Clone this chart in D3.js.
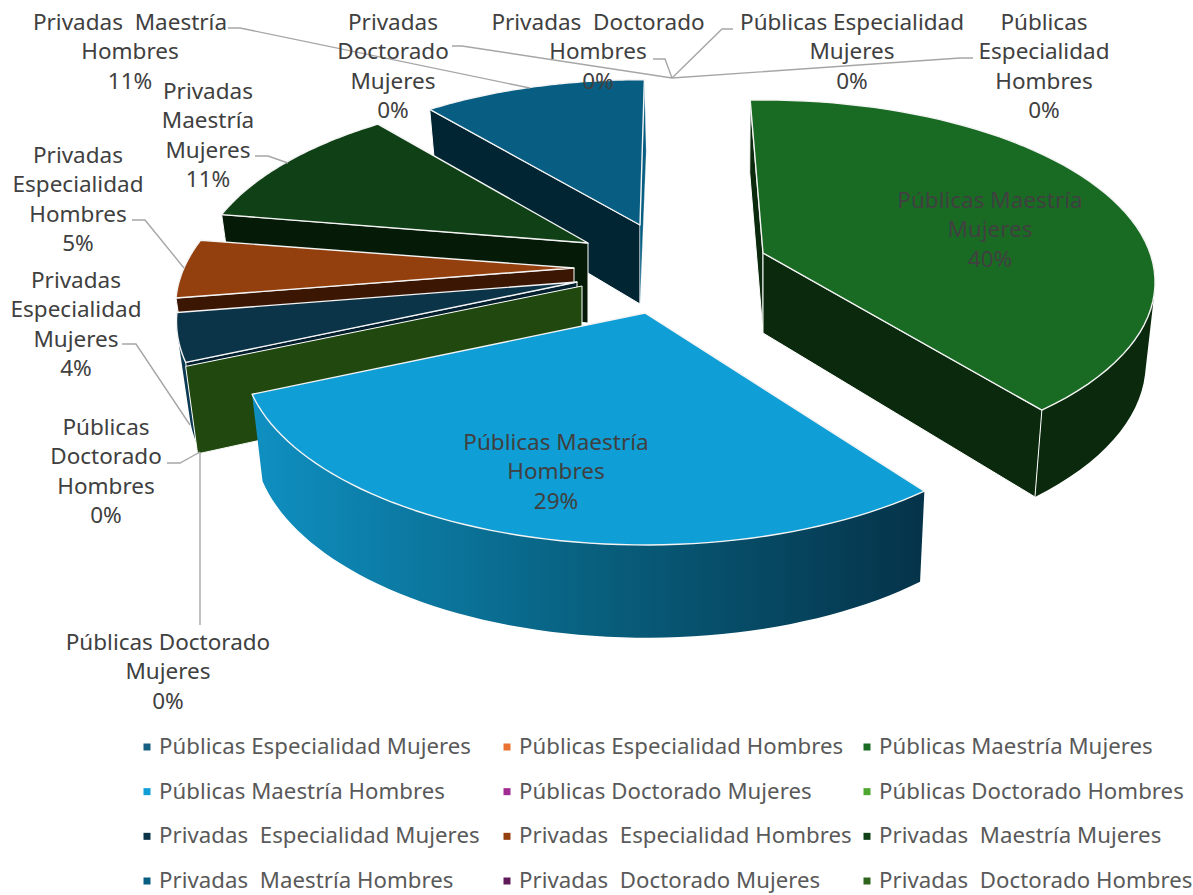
<!DOCTYPE html>
<html>
<head>
<meta charset="utf-8">
<script src="https://cdn.jsdelivr.net/npm/d3@7"></script>
<style>
  html, body { margin: 0; background: #fff; }
  svg { display: block; }
  text { font-family: "Noto Sans", sans-serif; white-space: pre; }
</style>
</head>
<body>
<div id="chart"></div>
<script>
const categories = [
  "Públicas Especialidad Mujeres", "Públicas Especialidad Hombres", "Públicas Maestría Mujeres",
  "Públicas Maestría Hombres", "Públicas Doctorado Mujeres", "Públicas Doctorado Hombres",
  "Privadas  Especialidad Mujeres", "Privadas  Especialidad Hombres", "Privadas  Maestría Mujeres",
  "Privadas  Maestría Hombres", "Privadas  Doctorado Mujeres", "Privadas  Doctorado Hombres"
];
const values = [0, 0, 39.8, 28.5, 0, 0, 4, 5, 11.45, 11.4, 0, 0];
const colors = ["#156082", "#e97132", "#196b24", "#0f9ed5", "#a02b93", "#4ea72e",
                "#0b3449", "#93400e", "#0f4016", "#075e82", "#601a58", "#2f641c"];
const wallColors = [null, null, "#0b2a0d", null, null, "#21480f",
                    "#04202f", "#3b1603", "#061a08", "#022533", null, null];
const labelLines = [
  ["Públicas Especialidad", "Mujeres"], ["Públicas", "Especialidad", "Hombres"], ["Públicas Maestría", "Mujeres"],
  ["Públicas Maestría", "Hombres"], ["Públicas Doctorado", "Mujeres"], ["Públicas", "Doctorado", "Hombres"],
  ["Privadas", "Especialidad", "Mujeres"], ["Privadas", "Especialidad", "Hombres"], ["Privadas", "Maestría", "Mujeres"],
  ["Privadas  Maestría", "Hombres"], ["Privadas", "Doctorado", "Mujeres"], ["Privadas  Doctorado", "Hombres"]
];

const width = 1193, height = 895;
const rad = Math.PI / 180;

// where each label sits: centre x, first baseline
const labelPos = [
  [852, 29.5], [1044, 29.5], [990, 207.5], [556, 449.5], [168, 649.5], [106, 434.5],
  [76, 287.5], [78, 162.5], [208, 98.5], [130, 29.5], [393, 29.5], [598, 29.5]
];
// leader lines
const leaders = [
  [[733, 29], [722, 29], [672, 78]],
  [[973, 58], [960, 58], [672, 78]],
  null,
  null,
  [[200, 625], [200, 452]],
  [[167, 463], [180, 463], [200, 452]],
  [[122, 344], [136, 344], [190, 425]],
  [[132, 220], [145, 220], [184, 268]],
  [[255, 156], [268, 156], [288, 163]],
  [[228, 28], [240, 28], [530, 88]],
  [[452, 46], [462, 46], [672, 78]],
  [[653, 59], [665, 59], [672, 78]]
];

// exploded slices: apex on screen, angle nudge, perspective, ellipse size, thickness
const geom = {
  2: {cx: 763, cy: 253, twist: 0,    k: 0.16,  a: 387, b: 177.5, dep: 80},
  3: {cx: 645, cy: 313, twist: 2.84, k: 0.205, a: 394, b: 184.4, dep: 83.5},
  5: {cx: 582, cy: 286, twist: 3.1,  k: 0.205, a: 397, b: 184.4, dep: 84},
  6: {cx: 577, cy: 282, twist: 3.1,  k: 0.205, a: 392, b: 184.4, dep: 80},
  7: {cx: 574, cy: 268, twist: 3.26, k: 0.205, a: 390, b: 184.4, dep: 80},
  8: {cx: 588, cy: 243, twist: 3.84, k: 0.205, a: 384, b: 178,   dep: 80},
  9: {cx: 640, cy: 225, twist: 3.0,  k: 0.205, a: 377, b: 175,   dep: 79}
};
const drawOrder = [9, 8, 7, 6, 5, 3, 2];

const svg = d3.select("#chart").append("svg")
  .attr("width", width)
  .attr("height", height);

const grad = svg.append("defs").append("linearGradient")
  .attr("id", "rimBlue")
  .attr("gradientUnits", "userSpaceOnUse")
  .attr("x1", 250).attr("x2", 925).attr("y1", 0).attr("y2", 0);
grad.append("stop").attr("offset", "0").attr("stop-color", "#0f90c2");
grad.append("stop").attr("offset", "0.5").attr("stop-color", "#08607f");
grad.append("stop").attr("offset", "1").attr("stop-color", "#053349");

const pie = d3.pie().sort(null).value(d => d)
  .startAngle(-2.2 * rad).endAngle((360 - 2.2) * rad);
const arcs = pie(values);

const line = d3.line();

function rimPoint(g, th) {
  const s = Math.sin(th), c = Math.cos(th), w = 1 + g.k * c;
  return [g.cx + g.a * s / w, g.cy - g.b * c / w];
}
function drop(g, p, c) {
  // thickness grows toward the viewer, vertical edges lean to the vanishing point
  return [p[0] + (728 - p[0]) * 0.022 * (c === null ? 0 : 1), p[1] + g.dep / (1 + 0.1 * (c || 0))];
}

drawOrder.forEach(i => {
  const g = geom[i];
  const s0 = arcs[i].startAngle + g.twist * rad;
  const s1 = arcs[i].endAngle + g.twist * rad;
  const ths = d3.range(0, 61).map(t => s0 + (s1 - s0) * t / 60);
  const rim = ths.map(t => rimPoint(g, t));
  const apex = [g.cx, g.cy];
  const apexLow = drop(g, apex, null);
  const layer = svg.append("g");
  const wall = colors[i] === "#0f9ed5" ? "url(#rimBlue)" : wallColors[i];
  const rimFill = i === 6 ? "#0c3a52" : wall;

  // outer wall: quads in one path, all wound the same way, so there are no seams
  // and the sweep past the widest point stays filled
  const near = ths.filter(t => Math.cos(t) < 0.6);
  const quads = d3.pairs(near).map(d => {
    const p = rimPoint(g, d[0]), q = rimPoint(g, d[1]);
    const quad = [p, q, drop(g, q, Math.cos(d[1])), drop(g, p, Math.cos(d[0]))];
    return d3.polygonArea(quad) < 0 ? quad.reverse() : quad;
  });
  if (quads.length) {
    layer.append("path")
      .attr("d", quads.map(q => line(q) + "Z").join(""))
      .attr("fill", rimFill);
  }

  // flat walls that face the viewer
  if (Math.sin(s0) < 0) {
    const p = rimPoint(g, s0);
    layer.append("path")
      .attr("d", line([apex, p, drop(g, p, Math.cos(s0)), apexLow]) + "Z")
      .attr("fill", wallColors[i])
      .attr("stroke", "#fff").attr("stroke-width", 1);
  }
  if (Math.sin(s1) > 0) {
    const p = rimPoint(g, s1);
    layer.append("path")
      .attr("d", line([apex, p, drop(g, p, Math.cos(s1)), apexLow]) + "Z")
      .attr("fill", i === 9 ? colors[i] : wallColors[i])
      .attr("stroke", "#fff").attr("stroke-width", i === 9 ? 0.3 : 1);
  }
  if (values[i] > 0) {
    layer.append("path")
      .attr("d", line([apex].concat(rim)) + "Z")
      .attr("fill", colors[i])
      .attr("stroke", "#f4f4f4").attr("stroke-width", 1.4)
      .attr("stroke-linejoin", "round");
  }
});

// leader lines
svg.append("g").selectAll("path")
  .data(leaders.filter(d => d))
  .enter()
  .append("path")
  .attr("d", d => line(d))
  .attr("fill", "none")
  .attr("stroke", "#a6a6a6")
  .attr("stroke-width", 1.4);

// data labels
const fmt = d3.format(".0f");
const lineGap = 29.5;
categories.forEach((c, i) => {
  const t = svg.append("text")
    .attr("x", labelPos[i][0])
    .attr("y", labelPos[i][1])
    .attr("text-anchor", "middle")
    .attr("font-size", 22.5)
    .attr("fill", "#404040");
  labelLines[i].concat([fmt(values[i]) + "%"]).forEach((s, j) => {
    t.append("tspan")
      .attr("x", labelPos[i][0])
      .attr("dy", j === 0 ? 0 : lineGap)
      .text(s);
  });
});

// legend
const legendX = d3.scalePoint().domain([0, 1, 2]).range([147, 867]);
const legendY = d3.scalePoint().domain([0, 1, 2, 3]).range([747, 881]);
const legend = svg.append("g").selectAll("g")
  .data(categories)
  .enter()
  .append("g")
  .attr("transform", (d, i) => `translate(${legendX(i % 3)},${legendY(Math.floor(i / 3))})`);
legend.append("rect")
  .attr("x", -3.5).attr("y", -3.5)
  .attr("width", 7).attr("height", 7)
  .attr("fill", (d, i) => colors[i]);
legend.append("text")
  .attr("x", 12)
  .attr("y", 7)
  .attr("font-size", 22.2)
  .attr("letter-spacing", 0.05)
  .attr("fill", "#595959")
  .text(d => d);
</script>
</body>
</html>
